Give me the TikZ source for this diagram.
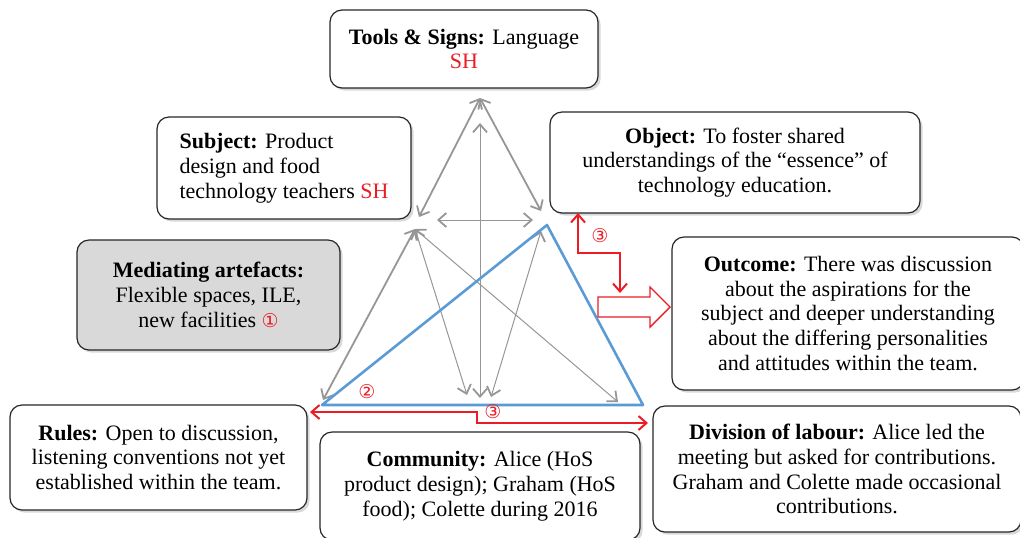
\documentclass[tikz,border=0pt]{standalone}
\usepackage{fontspec}
\setmainfont{Liberation Serif}
\newfontfamily\circfont{DejaVu Sans}
\usetikzlibrary{arrows.meta,shadows}
\definecolor{triblue}{RGB}{91,155,213}
\definecolor{linkgray}{RGB}{150,150,150}
\definecolor{markred}{RGB}{235,28,36}
\newcommand{\circnum}[1]{{\circfont\fontsize{9.5}{9.5}\selectfont\color{markred}#1}}
\begin{document}
\begin{tikzpicture}[x=0.5pt, y=-0.5pt, font=\rmfamily\fontsize{11}{12.4}\selectfont,
  box/.style={draw=black!85, line width=0.6pt, rounded corners=6pt, fill=white, align=center, inner sep=2pt,
    drop shadow={shadow xshift=1.3pt, shadow yshift=-1.3pt, opacity=0.3}},
  link/.style={linkgray, line width=0.5pt, {Straight Barb[length=4pt,width=7pt,line width=0.9pt]}-{Straight Barb[length=4pt,width=7pt,line width=0.9pt]}},
  thicklink/.style={link, line width=0.9pt},
  redlink/.style={markred, line width=0.7pt, {Straight Barb[length=4pt,width=7pt,line width=1pt]}-{Straight Barb[length=4pt,width=7pt,line width=1pt]}}]
\useasboundingbox (0,0) rectangle (1020,537);

% the boxes
\node [box, minimum width=134pt, minimum height=39pt] (tools) at (464,49)
  {\textbf{Tools \& Signs:} Language\\ \textcolor{markred}{SH}};
\node [box, minimum width=127pt, minimum height=51pt, align=left] (subject) at (284,168)
  {\textbf{Subject:} Product\\ design and food\\ technology teachers \textcolor{markred}{SH}};
\node [box, minimum width=185pt, minimum height=50.5pt] (object) at (735,162.5)
  {\textbf{Object:} To foster shared\\ understandings of the “essence” of\\ technology education.};
\node [box, fill=black!15, minimum width=131.5pt, minimum height=55pt] (mediating) at (208.5,295)
  {\textbf{Mediating artefacts:}\\ Flexible spaces, ILE,\\ new facilities \circnum{①}};
\node [box, minimum width=176pt, minimum height=76.5pt] (outcome) at (848,313.5)
  {\textbf{Outcome:} There was discussion\\ about the aspirations for the\\ subject and deeper understanding\\ about the differing personalities\\ and attitudes within the team.};
\node [box, minimum width=148.5pt, minimum height=52.5pt] (rules) at (158.5,457.5)
  {\textbf{Rules:} Open to discussion,\\ listening conventions not yet\\ established within the team.};
\node [box, minimum width=160pt, minimum height=54pt] (community) at (480,486)
  {\textbf{Community:} Alice (HoS\\ product design); Graham (HoS\\ food); Colette during 2016};
\node [box, minimum width=184pt, minimum height=63pt] (division) at (837,469)
  {\textbf{Division of labour:} Alice led the\\ meeting but asked for contributions.\\ Graham and Colette made occasional\\ contributions.};

% points of the triangle
\coordinate (top) at (480,98);
\coordinate (topin) at (480,123);
\coordinate (subj) at (419,217);
\coordinate (obj) at (541,211);
\coordinate (subjr) at (437,220);
\coordinate (objl) at (533,220);
\coordinate (med) at (415,229);
\coordinate (objlow) at (541,231);
\coordinate (rul) at (323,400);
\coordinate (com) at (480,398);
\coordinate (comleft) at (467,395);
\coordinate (comright) at (491,397);
\coordinate (div) at (618,402);

% gray links
\draw [thicklink] (top) -- (subj);
\draw [thicklink] (top) -- (obj);
\draw [link] (subjr) -- (objl);
\draw [link] (topin) -- (com);
\draw [thicklink] (med) -- (rul);
\draw [link] (med) -- (comleft);
\draw [link] (med) -- (div);
\draw [link] (objlow) -- (comright);

% blue triangle
\coordinate (bluetop) at (547,225);
\coordinate (blueleft) at (322,405);
\coordinate (blueright) at (643,405);
\draw [triblue, line width=1.3pt, line join=round] (bluetop) -- (blueleft) -- (blueright) -- cycle;

% red marks
\coordinate (redstart) at (310,412);
\coordinate (redend) at (648,423);
\draw [redlink] (redstart) -- (477,412) -- (477,423) -- (redend);
\coordinate (objfoot) at (578,213);
\coordinate (arrowtop) at (620,293);
\draw [redlink] (objfoot) -- (578,253) -- (620,253) -- (arrowtop);
\draw [markred, line width=0.7pt, fill=white] (598,297) -- (650,297) -- (650,287) -- (670,307)
  -- (650,327) -- (650,317) -- (598,317) -- cycle;
\node (three1) at (600,236) {\circnum{③}};
\node (two) at (367,392) {\circnum{②}};
\node (three2) at (493,412) {\circnum{③}};
\end{tikzpicture}
\end{document}
